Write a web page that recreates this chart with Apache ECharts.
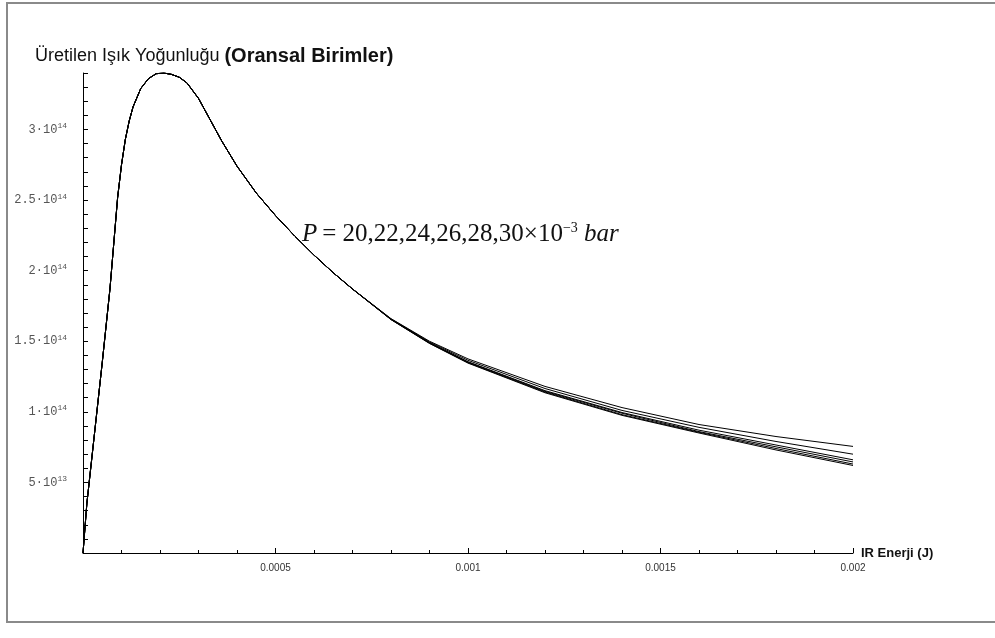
<!DOCTYPE html>
<html lang="tr">
<head>
  <meta charset="UTF-8">
  <title>Üretilen Işık Yoğunluğu</title>
  <style type="text/css">
    html, body { margin: 0; padding: 0; background: #fff; }
    #main { width: 995px; height: 638px; }
  </style>
</head>
<body>
  <div id="main"></div>
</body>
<script type="text/javascript" src="https://cdn.jsdelivr.net/npm/echarts@6/dist/echarts.min.js"></script>
<script type="text/javascript">
  // IR enerjisi (J), ortak kısım + eğrilerin ayrıldığı kuyruk
  var energyHead = [0, 0.00001, 0.00003, 0.00005, 0.00007, 0.00009, 0.0001, 0.00011, 0.00012, 0.00013,
    0.00015, 0.00017, 0.00019, 0.00021, 0.00023, 0.00025, 0.00027, 0.0003, 0.00033, 0.00036,
    0.0004, 0.00045, 0.0005, 0.00055, 0.0006, 0.00065]
  var energyTail = [0.0007, 0.0008, 0.0009, 0.001, 0.0012, 0.0014, 0.0016, 0.0018, 0.002]
  // ışık yoğunluğu, 10^14 birim: tüm basınçlar için aynı olan kısım
  var sharedHead = [0, 0.35, 0.85, 1.35, 1.87, 2.52, 2.75, 2.93, 3.06, 3.16,
    3.29, 3.36, 3.395, 3.40, 3.39, 3.37, 3.33, 3.22, 3.07, 2.92,
    2.74, 2.55, 2.39, 2.245, 2.11, 1.985]
  // kuyruklar (P = 20 ... 30 ×10^-3 bar)
  var p20 = [1.87, 1.66, 1.50, 1.375, 1.18, 1.03, 0.91, 0.825, 0.755]
  var p22 = [1.87, 1.658, 1.495, 1.365, 1.165, 1.01, 0.89, 0.79, 0.70]
  var p24 = [1.87, 1.656, 1.49, 1.355, 1.15, 0.995, 0.87, 0.765, 0.66]
  var p26 = [1.87, 1.655, 1.488, 1.352, 1.145, 0.99, 0.86, 0.752, 0.645]
  var p28 = [1.87, 1.654, 1.486, 1.348, 1.14, 0.98, 0.855, 0.74, 0.63]
  var p30 = [1.87, 1.653, 1.484, 1.345, 1.135, 0.975, 0.85, 0.73, 0.62]
  var pressures = ['20', '22', '24', '26', '28', '30']
  var tails = [p20, p22, p24, p26, p28, p30]
  var xTickLabels = ['0.0005', '0.001', '0.0015', '0.002']

  var myChart = echarts.init(document.getElementById('main'));

  var energy = energyHead.concat(energyTail)
  var series = tails.map(function (tail, k) {
    var vals = sharedHead.concat(tail)
    return {
      name: 'P = ' + pressures[k] + '×10⁻³ bar',
      type: 'line',
      showSymbol: false,
      smooth: false,
      lineStyle: { color: '#000', width: 1 },
      data: vals.map(function (v, i) { return [energy[i], v] })
    }
  })

  // 3·10^14 gibi etiketler
  function yLabel(v) {
    var r = Math.round(v * 10) / 10
    if (r === 0 || Math.abs(r * 2 - Math.round(r * 2)) > 1e-6) return ''
    if (r < 1) return '{m|' + Math.round(r * 10) + '·10}{e|13}'
    return '{m|' + r + '·10}{e|14}'
  }

  var option = {
    backgroundColor: '#fff',
    animation: false,
    title: [{
      left: 30,
      top: 41,
      text: '{a|Üretilen Işık Yoğunluğu} {b|(Oransal Birimler)}',
      textStyle: {
        rich: {
          a: { fontFamily: 'Liberation Sans', fontSize: 18, fontWeight: 'normal', color: '#111' },
          b: { fontFamily: 'Liberation Sans', fontSize: 20, fontWeight: 'bold', color: '#111' }
        }
      }
    }, {
      left: 297,
      top: 216,
      text: '{i|P} {n|= 20,22,24,26,28,30×10}{s|−3}{n| }{i|bar}',
      textStyle: {
        rich: {
          i: { fontFamily: 'Liberation Serif', fontSize: 25, fontStyle: 'italic', fontWeight: 'normal', color: '#111' },
          n: { fontFamily: 'Liberation Serif', fontSize: 25, fontWeight: 'normal', color: '#111' },
          s: { fontFamily: 'Liberation Serif', fontSize: 14, fontWeight: 'normal', color: '#111', verticalAlign: 'bottom', padding: [0, 0, 12, 0] }
        }
      }
    }],
    graphic: [{
      type: 'rect',
      shape: { x: 7, y: 3, width: 1000, height: 619 },
      style: { fill: 'none', stroke: '#8a8a8a', lineWidth: 2 }
    }],
    grid: { left: 83, right: 142, top: 73, bottom: 85 },
    xAxis: {
      type: 'value',
      min: 0,
      max: 0.002,
      interval: 0.0005,
      name: 'IR Enerji (J)',
      nameLocation: 'end',
      nameGap: 8,
      nameTextStyle: { fontFamily: 'Liberation Sans', fontSize: 13, fontWeight: 'bold', color: '#111' },
      axisLine: { lineStyle: { color: '#000', width: 1 } },
      axisTick: { inside: true, length: 5, lineStyle: { color: '#000' } },
      minorTick: { show: true, splitNumber: 5, length: 3, lineStyle: { color: '#000' } },
      splitLine: { show: false },
      axisLabel: {
        margin: 10,
        fontFamily: 'Liberation Sans',
        fontSize: 10,
        color: '#333',
        formatter: function (v) {
          var i = Math.round(v / 0.0005)
          return i > 0 ? xTickLabels[i - 1] : ''
        }
      }
    },
    yAxis: {
      type: 'value',
      min: 0,
      max: 3.4,
      interval: 0.1,
      axisLine: { lineStyle: { color: '#000', width: 1 } },
      axisTick: { inside: true, length: 5, lineStyle: { color: '#000' } },
      splitLine: { show: false },
      axisLabel: {
        margin: 16,
        color: '#555',
        formatter: yLabel,
        rich: {
          m: { fontFamily: 'Liberation Mono', fontSize: 12, color: '#555' },
          e: { fontFamily: 'Liberation Mono', fontSize: 8, color: '#555', verticalAlign: 'bottom', padding: [0, 0, 7, 0] }
        }
      }
    },
    series: series
  };
  myChart.setOption(option);
</script>
</html>
